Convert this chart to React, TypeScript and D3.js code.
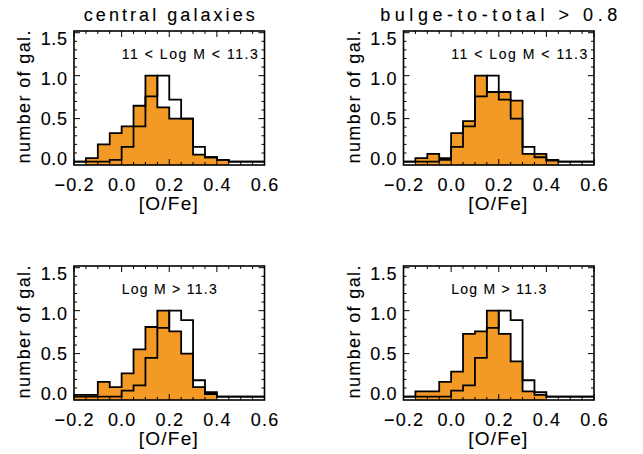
import React from "react";
import * as d3 from "d3";

// ---- data ----
const BIN_LO = [-0.2, -0.15, -0.1, -0.05, 0.0, 0.05, 0.1, 0.15, 0.2, 0.25, 0.3, 0.35, 0.4, 0.45, 0.5, 0.55];
const BIN_W = 0.05;

// filled (orange) histograms
const central_mid = [0, 0.04, 0.2, 0.33, 0.41, 0.65, 1.0, 0.63, 0.5, 0.5, 0.08, 0.05, 0.02, 0, 0, 0];
const bulge_mid = [0, 0.04, 0.09, 0.04, 0.33, 0.47, 1.0, 0.81, 0.81, 0.71, 0.09, 0.09, 0.01, 0, 0, 0];
const central_high = [0.02, 0.02, 0.17, 0.11, 0.27, 0.55, 0.81, 1.0, 0.76, 0.5, 0.11, 0.03, 0, 0, 0, 0];
const bulge_high = [0, 0.06, 0.06, 0.17, 0.29, 0.73, 0.76, 1.0, 0.73, 0.41, 0.06, 0.02, 0, 0, 0, 0];

// open (outline-only) reference histograms
const all_mid = [0, 0, 0, 0.02, 0.17, 0.41, 0.76, 1.0, 0.72, 0.5, 0.17, 0.05, 0.02, 0, 0, 0];
const all_high = [0, 0, 0, 0, 0.07, 0.13, 0.45, 0.8, 1.0, 0.89, 0.19, 0.05, 0, 0, 0, 0];

const X_TICKS = [-0.2, 0.0, 0.2, 0.4, 0.6];
const Y_TICKS = [0.0, 0.5, 1.0, 1.5];
const TITLES = ["central galaxies", "bulge-to-total > 0.8"];
const MASS_LABELS = ["11 < Log M < 11.3", "Log M > 11.3"];
const X_TITLE = "[O/Fe]";
const Y_TITLE = "number of gal.";

const X_DOMAIN = [-0.2, 0.6];
const Y_DOMAIN = [-0.04, 1.52];

const ORANGE = "#f39a26";
const FONT = "'Liberation Sans', Arial, Helvetica, sans-serif";

type PanelProps = {
  left: number;
  top: number;
  filled: number[];
  open: number[];
  massLabel: string;
  massLabelLen: number;
  title?: string;
  titleLen?: number;
};

const PW = 190.5;
const PH = 134;
const TXT = { fill: "#000", stroke: "#000", strokeWidth: 0.12 };

function Panel({ left, top, filled, open, massLabel, massLabelLen, title, titleLen }: PanelProps) {
  const x = d3.scaleLinear().domain(X_DOMAIN).range([left, left + PW]);
  const y = d3.scaleLinear().domain(Y_DOMAIN).range([top + PH, top]);
  // label placement scale (IDL puts labels slightly compressed)
  const yl = d3.scaleLinear().domain([0, 1.5]).range([top + PH - 6.5, top + 7.5]);

  const step = d3
    .line<[number, number]>()
    .x((d) => x(d[0]))
    .y((d) => y(d[1]))
    .curve(d3.curveStepAfter);

  const toPts = (vals: number[]): [number, number][] => {
    const pts: [number, number][] = BIN_LO.map((lo, i) => [lo, vals[i]]);
    pts.push([BIN_LO[BIN_LO.length - 1] + BIN_W, vals[vals.length - 1]]);
    return pts;
  };

  const bottom = y(Y_DOMAIN[0]);
  const topY = y(Y_DOMAIN[1]);
  const right = x(X_DOMAIN[1]);

  const fillPath = d3.path();
  filled.forEach((v, i) => {
    if (v > 0) {
      const x0 = x(BIN_LO[i]);
      const x1 = x(BIN_LO[i] + BIN_W);
      fillPath.rect(x0, y(v), x1 - x0, bottom - y(v));
    }
  });

  const xMinor = d3.range(-0.2, 0.6001, 0.05);
  const yMinor = d3.range(0, 1.5001, 0.1);

  return (
    <g>
      {title && (
        <text
          x={left + PW / 2}
          y={20.7}
          textAnchor="middle"
          fontSize={18}
          fontFamily={FONT}
          textLength={titleLen}
          lengthAdjust="spacing"
          {...TXT}
        >
          {title}
        </text>
      )}
      {/* filled histogram */}
      <path d={fillPath.toString()} fill={ORANGE} stroke={ORANGE} strokeWidth={0.4} />
      <path d={step(toPts(open)) || ""} fill="none" stroke="#000" strokeWidth={1.8} />
      <path d={step(toPts(filled)) || ""} fill="none" stroke="#000" strokeWidth={1.8} />

      {/* ticks */}
      {xMinor.map((v, i) => {
        const major = X_TICKS.some((t) => Math.abs(t - v) < 1e-6);
        const len = major ? 6 : 3;
        return (
          <g key={"xt" + i}>
            <line x1={x(v)} x2={x(v)} y1={bottom} y2={bottom - len} stroke="#000" strokeWidth={1} />
            <line x1={x(v)} x2={x(v)} y1={topY} y2={topY + len} stroke="#000" strokeWidth={1} />
          </g>
        );
      })}
      {yMinor.map((v, i) => {
        const major = Y_TICKS.some((t) => Math.abs(t - v) < 1e-6);
        const len = major ? 6 : 3;
        return (
          <g key={"yt" + i}>
            <line x1={left} x2={left + len} y1={y(v)} y2={y(v)} stroke="#000" strokeWidth={1} />
            <line x1={right} x2={right - len} y1={y(v)} y2={y(v)} stroke="#000" strokeWidth={1} />
          </g>
        );
      })}
      <rect x={left} y={topY} width={right - left} height={bottom - topY} fill="none" stroke="#000" strokeWidth={1.6} />

      {/* tick labels */}
      {X_TICKS.map((t) => (
        <text
          key={"xl" + t}
          x={x(t) + 0.6}
          y={bottom + 25.8}
          textAnchor="middle"
          fontSize={18}
          fontFamily={FONT}
          letterSpacing={1.2}
          {...TXT}
        >
          {d3.format(".1f")(t)}
        </text>
      ))}
      {Y_TICKS.map((t) => (
        <text
          key={"yl" + t}
          x={left - 6.5}
          y={yl(t)}
          textAnchor="end"
          dominantBaseline="central"
          fontSize={18}
          fontFamily={FONT}
          letterSpacing={0.6}
          {...TXT}
        >
          {d3.format(".1f")(t)}
        </text>
      ))}

      {/* axis titles */}
      <text
        x={left + PW / 2 - 1}
        y={bottom + 45}
        textAnchor="middle"
        fontSize={19}
        fontFamily={FONT}
        textLength={59}
        lengthAdjust="spacing"
        {...TXT}
      >
        {X_TITLE}
      </text>
      <text
        transform={`translate(${left - 44},${top + 66}) rotate(-90)`}
        textAnchor="middle"
        fontSize={18}
        fontFamily={FONT}
        textLength={133}
        lengthAdjust="spacing"
        {...TXT}
      >
        {Y_TITLE}
      </text>

      {/* mass label */}
      <text
        x={left + 47.7}
        y={top + 28.2}
        fontSize={14}
        fontFamily={FONT}
        textLength={massLabelLen}
        lengthAdjust="spacing"
        fill="#000"
        stroke="#000"
        strokeWidth={0.1}
      >
        {massLabel}
      </text>
    </g>
  );
}

export default function App() {
  return (
    <div style={{ position: "fixed", left: 0, top: 0 }}>
      <svg width={643} height={454} style={{ display: "block", background: "#fff" }}>
        <rect x={0} y={0} width={643} height={454} fill="#fff" />
        <Panel left={74} top={31} filled={central_mid} open={all_mid} massLabel={MASS_LABELS[0]} massLabelLen={136} title={TITLES[0]} titleLen={171} />
        <Panel left={403.5} top={31} filled={bulge_mid} open={all_mid} massLabel={MASS_LABELS[0]} massLabelLen={136} title={TITLES[1]} titleLen={237} />
        <Panel left={74} top={266} filled={central_high} open={all_high} massLabel={MASS_LABELS[1]} massLabelLen={95} />
        <Panel left={403.5} top={266} filled={bulge_high} open={all_high} massLabel={MASS_LABELS[1]} massLabelLen={95} />
      </svg>
    </div>
  );
}
